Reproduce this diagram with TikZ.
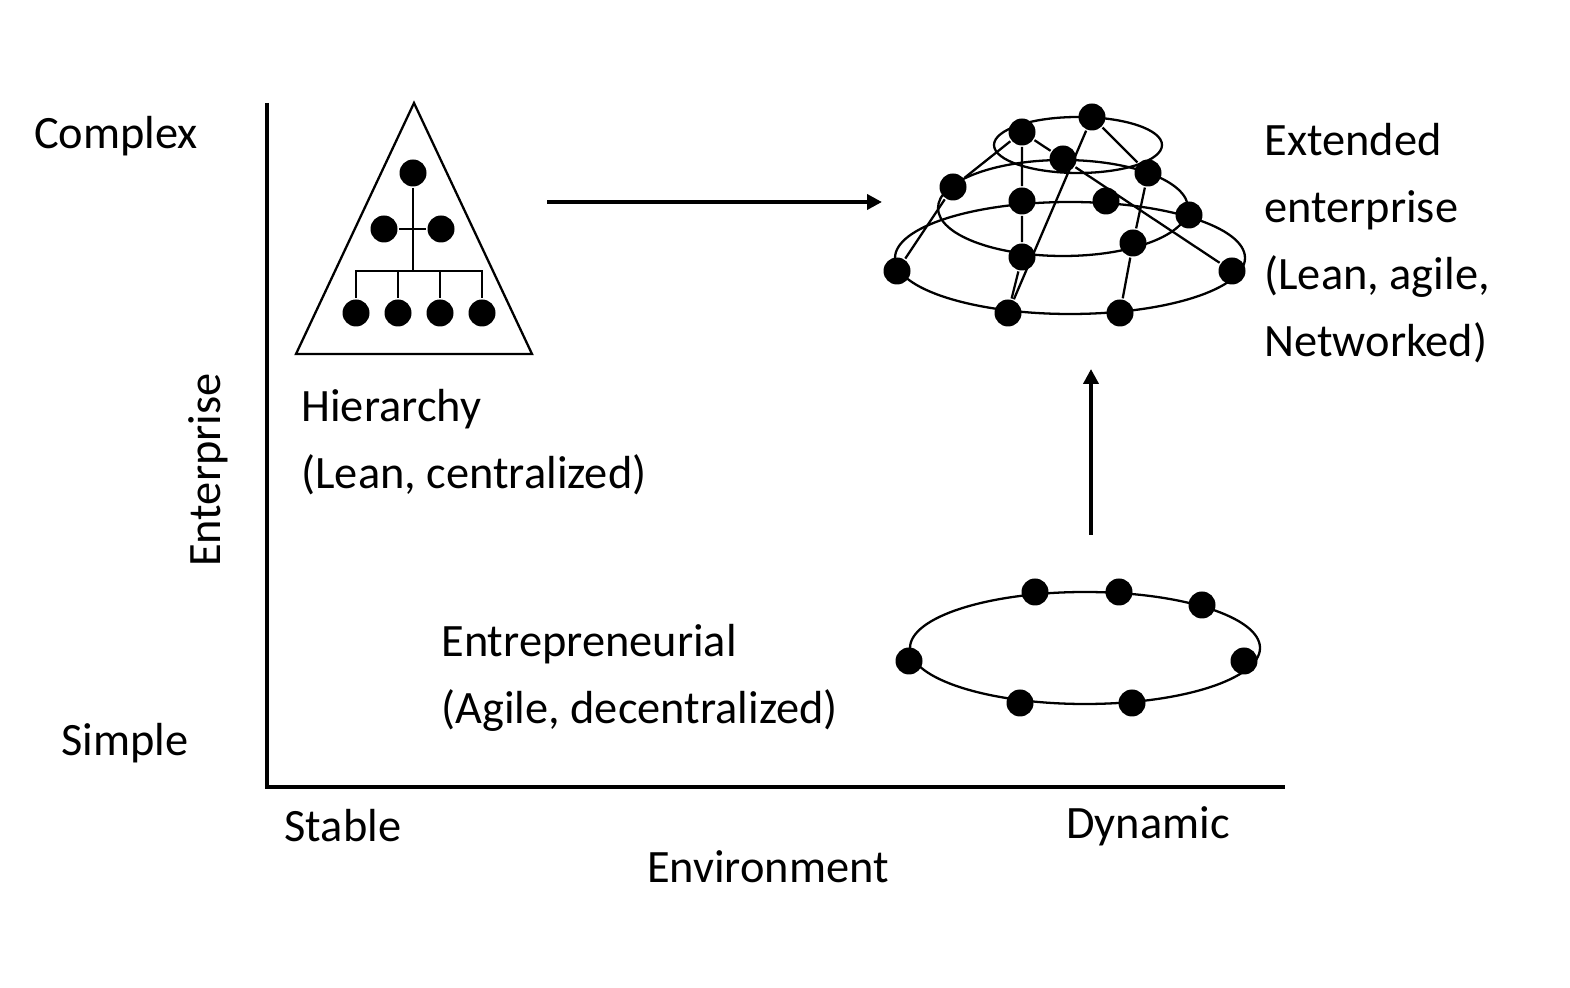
\documentclass[tikz,border=0pt]{standalone}
\usepackage{fontspec}
\setmainfont{Carlito}
\usetikzlibrary{arrows.meta}

\begin{document}
\begin{tikzpicture}[thick,>={Triangle[length=1.5mm,width=1.5mm]},
  font=\fontsize{13.2}{19}\selectfont,
  dot/.style={circle,fill=black,inner sep=0pt,minimum size=2.7mm},
  thin line/.style={line width=0.65pt},
  big arrow/.style={->,line width=1.1pt},
  lbl/.style={inner sep=0pt,align=left}]

\useasboundingbox (0,0) rectangle (15.7,-9.88);

% =====================
% Assi
% =====================
\coordinate (ytop) at (2.67,-1.03);
\coordinate (orig) at (2.67,-7.87);
\coordinate (xend) at (12.85,-7.87);
\draw[line width=1.2pt] (ytop) -- (orig) -- (xend);

\node[lbl] (complex) at (1.16,-1.36) {Complex};
\node[lbl] (simple) at (1.25,-7.43) {Simple};
\node[lbl,rotate=90] (yname) at (2.08,-4.70) {Enterprise};
\node[lbl] (stable) at (3.43,-8.26) {Stable};
\node[lbl] (dynamic) at (11.48,-8.26) {Dynamic};
\node[lbl] (xname) at (7.68,-8.67) {Environment};

% =====================
% Gerarchia
% =====================
\draw[thin line] (4.14,-1.03) -- (2.96,-3.54) -- (5.32,-3.54) -- cycle;

\node[dot] (h0) at (4.13,-1.73) {};
\node[dot] (h1) at (3.84,-2.29) {};
\node[dot] (h2) at (4.41,-2.29) {};
\foreach \i/\x in {1/3.56,2/3.98,3/4.40,4/4.82}
  \node[dot] (hb\i) at (\x,-3.13) {};
\coordinate (hbar) at (4.13,-2.71);

\draw[thin line] (h0) -- (hbar);
\draw[thin line] (h1) -- (h2);
\draw[thin line] (hb1) -- (hb1 |- hbar) -- (hb4 |- hbar) -- (hb4);
\foreach \i in {2,3}
  \draw[thin line] (hb\i) -- (hb\i |- hbar);

\node[lbl,anchor=west] (hier) at (3.00,-4.42) {Hierarchy\\(Lean, centralized)};

% =====================
% Impresa estesa (rete)
% =====================
\draw[thin line] (10.78,-1.45) ellipse [x radius=0.84, y radius=0.28];
\draw[thin line] (10.63,-2.08) ellipse [x radius=1.25, y radius=0.48];
\draw[thin line] (10.70,-2.58) ellipse [x radius=1.75, y radius=0.56];

\node[dot] (t1) at (10.22,-1.32) {};
\node[dot] (t2) at (10.92,-1.17) {};
\node[dot] (m1) at (9.53,-1.87) {};
\node[dot] (m2) at (10.63,-1.59) {};
\node[dot] (m3) at (11.48,-1.73) {};
\node[dot] (m4) at (11.89,-2.15) {};
\node[dot] (m5) at (11.33,-2.43) {};
\node[dot] (m6) at (10.22,-2.57) {};
\node[dot] (b1) at (8.97,-2.71) {};
\node[dot] (b2) at (10.22,-2.01) {};
\node[dot] (b3) at (11.06,-2.01) {};
\node[dot] (b4) at (12.32,-2.71) {};
\node[dot] (b5) at (10.08,-3.13) {};
\node[dot] (b6) at (11.20,-3.13) {};

\draw[thin line] (t1) -- (m1) -- (b1);
\draw[thin line] (t1) -- (b2) -- (m6) -- (b5);
\draw[thin line] (t1) -- (m2) -- (b4);
\draw[thin line] (t2) -- (m3) -- (m5) -- (b6);
\draw[thin line] (t2) -- (b5);

\node[lbl,anchor=west] (ext) at (12.63,-2.43)
  {Extended\\enterprise\\(Lean, agile,\\Networked)};

% =====================
% Imprenditoriale (anello)
% =====================
\draw[thin line] (10.85,-6.48) ellipse [x radius=1.75, y radius=0.56];

\node[dot] (r1) at (9.09,-6.61) {};
\node[dot] (r2) at (10.35,-5.92) {};
\node[dot] (r3) at (11.19,-5.92) {};
\node[dot] (r4) at (12.02,-6.05) {};
\node[dot] (r5) at (12.44,-6.61) {};
\node[dot] (r6) at (10.20,-7.03) {};
\node[dot] (r7) at (11.32,-7.03) {};

\node[lbl,anchor=west] (entr) at (4.40,-6.78) {Entrepreneurial\\(Agile, decentralized)};

% =====================
% Frecce
% =====================
\coordinate (ha) at (5.47,-2.02);
\coordinate (hb) at (8.82,-2.02);
\coordinate (va) at (10.91,-5.35);
\coordinate (vb) at (10.91,-3.69);
\draw[big arrow] (ha) -- (hb);
\draw[big arrow] (va) -- (vb);

\end{tikzpicture}
\end{document}
